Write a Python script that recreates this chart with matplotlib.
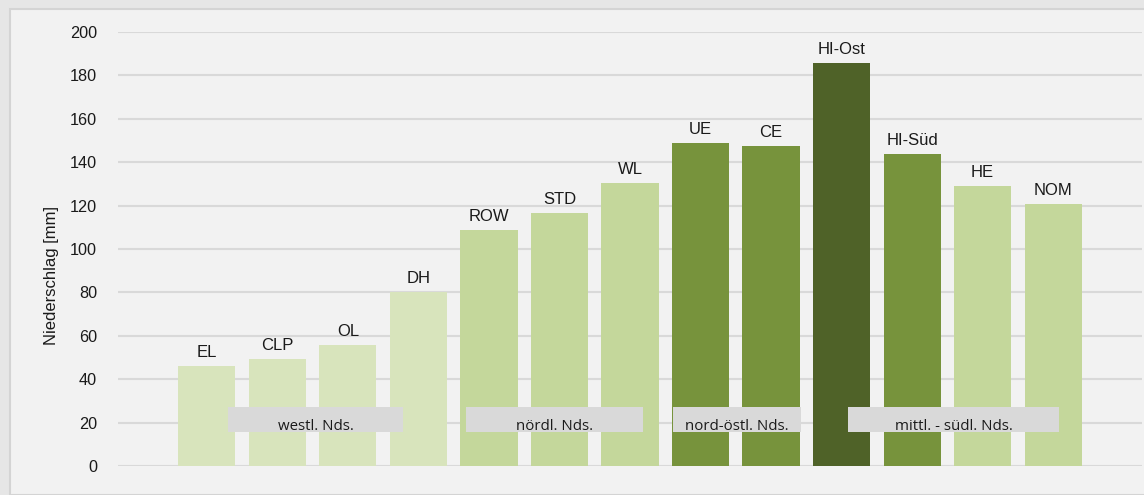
import matplotlib.pyplot as plt
from matplotlib.patches import Rectangle

plt.rcParams['font.family'] = ['Liberation Sans', 'DejaVu Sans']

# Niederschlag je Station
stations = ['EL', 'CLP', 'OL', 'DH', 'ROW', 'STD', 'WL', 'UE', 'CE', 'HI-Ost', 'HI-Süd', 'HE', 'NOM']
precip = [46, 49.3, 55.8, 80, 108.8, 116.5, 130.4, 148.8, 147.5, 185.7, 143.8, 129, 120.7]
bar_colors = ['#d8e4bc', '#d8e4bc', '#d8e4bc', '#d8e4bc',
              '#c4d79b', '#c4d79b', '#c4d79b',
              '#77933c', '#77933c', '#4f6228', '#77933c',
              '#c4d79b', '#c4d79b']

# Regionen (Bereich in Balken-Positionen)
regions = ['westl. Nds.', 'nördl. Nds.', 'nord-östl. Nds.', 'mittl. - südl. Nds.']
region_span = [(0.30, 2.78), (3.67, 6.18), (6.61, 8.43), (9.09, 12.09)]

fig = plt.figure(figsize=(11.44, 4.95), dpi=100, facecolor='#e6e6e6')
# inner panel
fig.patches.append(Rectangle((10 / 1144, 0), 1, 1 - 9 / 495, transform=fig.transFigure,
                             facecolor='#f2f2f2', edgecolor='#d4d4d4', linewidth=1.5, zorder=-1))

ax = fig.add_axes([118 / 1144, 29 / 495, 1024 / 1144, 434 / 495])
ax.set_zorder(2)
ax.set_facecolor('none')

x = list(range(len(stations)))
ax.bar(x, precip, width=0.81, color=bar_colors, zorder=2)

for xi, v, name in zip(x, precip, stations):
    ax.text(xi, v + 4.2, name, ha='center', va='baseline', fontsize=12, color='#1a1a1a', zorder=4)

for (a, b), name in zip(region_span, regions):
    ax.add_patch(Rectangle((a, 15.7), b - a, 11.5, facecolor='#d9d9d9', edgecolor='none', zorder=3))
    ax.text((a + b) / 2, 16.6, name, ha='center', va='baseline', fontsize=10.8,
            family=['Open Sans', 'DejaVu Sans'], color='#1a1a1a', zorder=4)

ax.set_xlim(-1.26, 12.26 + 1)
ax.set_ylim(0, 200)
ax.set_yticks(range(0, 201, 20))
ax.set_xticks([])
ax.yaxis.grid(True, color='#d9d9d9', linewidth=1.5, zorder=0)
ax.set_axisbelow(True)
ax.tick_params(axis='y', length=0, pad=15, labelsize=11.7, labelcolor='#1a1a1a')
for s in ax.spines.values():
    s.set_visible(False)
ax.set_ylabel('Niederschlag [mm]', fontsize=12, color='#1a1a1a')
ax.yaxis.set_label_coords(-0.058, 0.438)

fig.savefig('out.png', dpi=100, facecolor=fig.get_facecolor())
